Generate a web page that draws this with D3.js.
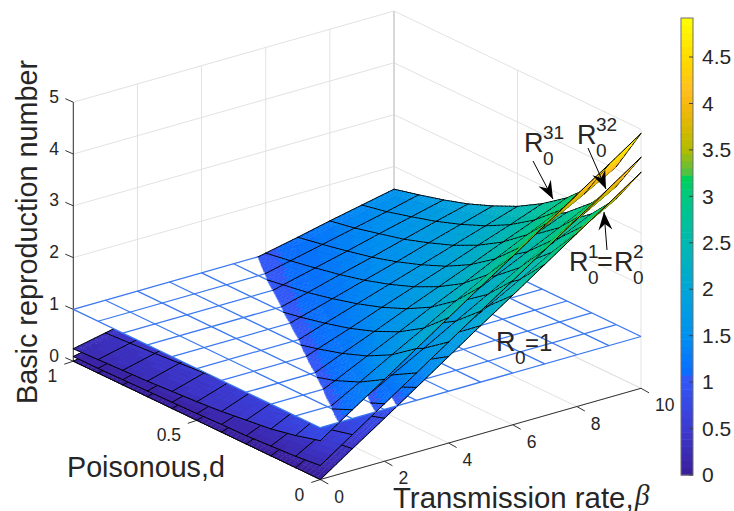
<!DOCTYPE html>
<html>
<head>
<meta charset="utf-8">
<script src="https://cdn.jsdelivr.net/npm/d3@7"></script>
<style>
  html, body { margin: 0; padding: 0; background: #fff; }
  text { font-family: "Liberation Sans", Arial, sans-serif; fill: #262626; }
</style>
</head>
<body>
<div id="wrapper"></div>
<script>
const betaValues = [0, 1, 2, 3, 4, 5, 6, 7, 8, 9, 10];
const dValues = [0, 0.1, 0.2, 0.3, 0.4, 0.5, 0.6, 0.7, 0.8, 0.9, 1];

const betaTicks = [0, 2, 4, 6, 8, 10];
const dTicks = [0, 0.5, 1];
const zTicks = [0, 1, 2, 3, 4, 5];
const colorTicks = [0, 0.5, 1, 1.5, 2, 2.5, 3, 3.5, 4, 4.5];
const planeLevel = 1;

// rows are d, columns are beta
const r31 = [
  [0.75, 1.17, 1.58, 2.00, 2.42, 2.84, 3.25, 3.67, 4.09, 4.50, 4.92],
  [0.62, 0.96, 1.30, 1.65, 1.99, 2.34, 2.67, 3.02, 3.37, 3.70, 4.05],
  [0.52, 0.82, 1.10, 1.40, 1.69, 1.99, 2.27, 2.57, 2.86, 3.15, 3.44],
  [0.46, 0.71, 0.96, 1.22, 1.47, 1.73, 1.98, 2.23, 2.49, 2.74, 2.99],
  [0.40, 0.63, 0.85, 1.08, 1.30, 1.53, 1.75, 1.97, 2.20, 2.42, 2.65],
  [0.36, 0.56, 0.76, 0.96, 1.17, 1.37, 1.57, 1.77, 1.97, 2.17, 2.37],
  [0.33, 0.51, 0.69, 0.87, 1.06, 1.24, 1.42, 1.60, 1.79, 1.97, 2.15],
  [0.30, 0.47, 0.63, 0.80, 0.97, 1.13, 1.30, 1.46, 1.63, 1.80, 1.96],
  [0.28, 0.43, 0.58, 0.74, 0.89, 1.05, 1.20, 1.35, 1.51, 1.66, 1.81],
  [0.26, 0.40, 0.54, 0.68, 0.83, 0.97, 1.11, 1.25, 1.39, 1.53, 1.68],
  [0.24, 0.37, 0.50, 0.63, 0.77, 0.90, 1.03, 1.16, 1.30, 1.43, 1.56],
];
const r32 = [
  [0.27, 0.69, 1.11, 1.53, 1.95, 2.37, 2.78, 3.20, 3.62, 4.04, 4.46],
  [0.22, 0.57, 0.91, 1.26, 1.60, 1.95, 2.29, 2.63, 2.98, 3.32, 3.67],
  [0.19, 0.48, 0.78, 1.07, 1.36, 1.66, 1.94, 2.24, 2.53, 2.82, 3.12],
  [0.16, 0.42, 0.67, 0.93, 1.19, 1.44, 1.69, 1.95, 2.20, 2.46, 2.71],
  [0.15, 0.37, 0.60, 0.82, 1.05, 1.28, 1.50, 1.72, 1.95, 2.17, 2.40],
  [0.13, 0.33, 0.54, 0.74, 0.94, 1.14, 1.34, 1.54, 1.74, 1.95, 2.15],
  [0.12, 0.30, 0.49, 0.67, 0.85, 1.04, 1.21, 1.40, 1.58, 1.77, 1.95],
  [0.11, 0.28, 0.44, 0.61, 0.78, 0.95, 1.11, 1.28, 1.44, 1.61, 1.78],
  [0.10, 0.25, 0.41, 0.56, 0.72, 0.87, 1.02, 1.18, 1.33, 1.49, 1.64],
  [0.09, 0.24, 0.38, 0.52, 0.66, 0.81, 0.95, 1.09, 1.23, 1.38, 1.52],
  [0.09, 0.22, 0.35, 0.49, 0.62, 0.75, 0.88, 1.01, 1.15, 1.28, 1.41],
];
const r1 = [
  [0, 0.42, 0.83, 1.25, 1.67, 2.09, 2.50, 2.92, 3.34, 3.75, 4.17],
  [0, 0.35, 0.68, 1.03, 1.37, 1.72, 2.06, 2.40, 2.75, 3.09, 3.43],
  [0, 0.29, 0.58, 0.87, 1.17, 1.46, 1.75, 2.04, 2.33, 2.62, 2.91],
  [0, 0.26, 0.50, 0.76, 1.02, 1.27, 1.52, 1.78, 2.03, 2.28, 2.54],
  [0, 0.23, 0.45, 0.67, 0.90, 1.12, 1.35, 1.57, 1.80, 2.02, 2.24],
  [0, 0.20, 0.40, 0.60, 0.80, 1.01, 1.21, 1.41, 1.61, 1.81, 2.01],
  [0, 0.18, 0.36, 0.55, 0.73, 0.91, 1.09, 1.28, 1.46, 1.64, 1.82],
  [0, 0.17, 0.33, 0.50, 0.67, 0.83, 1.00, 1.17, 1.33, 1.50, 1.66],
  [0, 0.15, 0.31, 0.46, 0.61, 0.77, 0.92, 1.07, 1.23, 1.38, 1.53],
  [0, 0.14, 0.28, 0.43, 0.57, 0.71, 0.85, 1.00, 1.14, 1.28, 1.42],
  [0, 0.13, 0.26, 0.40, 0.53, 0.66, 0.79, 0.93, 1.06, 1.19, 1.32],
];
const surfaces = [r1, r32, r31];

const colorDomain = [0, 0.5, 1.05, 1.1, 1.5, 2, 2.5, 3, 3.2, 3.27, 3.5, 3.75, 4, 4.15, 4.4, 4.92];
const colorRange = ["#3b1e9a", "#3d3ad0", "#3158f8", "#0a6cff", "#0090f0", "#00a6d8", "#00b9b0", "#00c880",
  "#00d058", "#58c040", "#b0bc00", "#d8b800", "#f8b810", "#ffc020", "#ffd400", "#ffff00"];

const width = 734;
const height = 511;
const origin = { x: 320.3, y: 479.5 };
const steps = 6;

const wrapper = d3.select("#wrapper")
  .append("svg")
    .attr("width", width)
    .attr("height", height)
    .style("display", "block");

const betaX = d3.scaleLinear().domain([0, 10]).range([0, 320.7]);
const betaY = d3.scaleLinear().domain([0, 10]).range([0, -91.2]);
const dX = d3.scaleLinear().domain([0, 1]).range([0, -247]);
const dY = d3.scaleLinear().domain([0, 1]).range([0, -118.3]);
const zY = d3.scaleLinear().domain([0, 5]).range([0, -259]);

const colorRamp = d3.scaleLinear().domain(colorDomain).range(colorRange).clamp(true);
const levels = 64;
const zMax = 4.92;
const colorOf = z => colorRamp((Math.floor(Math.min(z, zMax - 0.001) / zMax * levels) + 0.5) / levels * zMax);

const project = (b, d, z) => [
  origin.x + betaX(b) + dX(d),
  origin.y + betaY(b) + dY(d) + zY(z),
];
const depthOf = (b, d, z) => 24.8 * b + 319 * d - 47 * z;
const line3d = (a, b) => `M${project(...a)}L${project(...b)}`;

// walls and floor
const grid = wrapper.append("g")
  .attr("fill", "none")
  .attr("stroke", "#e2e2e2")
  .attr("stroke-width", 1);
const gridLines = [];
zTicks.forEach(z => {
  gridLines.push([[0, 1, z], [10, 1, z]]);
  gridLines.push([[10, 1, z], [10, 0, z]]);
});
betaTicks.forEach(b => {
  gridLines.push([[b, 1, 0], [b, 1, 5]]);
  gridLines.push([[b, 0, 0], [b, 1, 0]]);
});
dTicks.forEach(d => {
  gridLines.push([[10, d, 0], [10, d, 5]]);
  gridLines.push([[0, d, 0], [10, d, 0]]);
});
grid.selectAll("path")
  .data(gridLines)
  .join("path")
    .attr("d", d => line3d(d[0], d[1]));
grid.append("path")
  .attr("d", line3d([10, 1, 0], [10, 1, 5]))
  .attr("stroke", "#c8c8c8");

// axis lines and ticks
const axes = wrapper.append("g")
  .attr("fill", "none")
  .attr("stroke", "#333")
  .attr("stroke-width", 1);
axes.append("path").attr("d", line3d([0, 0, 0], [10, 0, 0]));
axes.append("path").attr("d", line3d([0, 0, 0], [0, 1, 0]));
axes.append("path").attr("d", line3d([0, 1, 0], [0, 1, 5]));

axes.selectAll(".beta-tick")
  .data(betaTicks)
  .join("path")
    .attr("class", "beta-tick")
    .attr("d", b => {
      const [x, y] = project(b, 0, 0);
      return `M${x},${y}l8,4.5`;
    });
axes.selectAll(".d-tick")
  .data(dTicks)
  .join("path")
    .attr("class", "d-tick")
    .attr("d", d => {
      const [x, y] = project(0, d, 0);
      return `M${x},${y}l-9,3`;
    });
axes.selectAll(".z-tick")
  .data(zTicks)
  .join("path")
    .attr("class", "z-tick")
    .attr("d", z => {
      const [x, y] = project(0, 1, z);
      return `M${x},${y}l-8,-3.5`;
    });

const tickLabels = wrapper.append("g")
  .style("font-size", "17.5px")
  .attr("text-anchor", "middle");
tickLabels.selectAll(".beta-label")
  .data(betaTicks)
  .join("text")
    .attr("class", "beta-label")
    .attr("text-anchor", "start")
    .attr("x", b => project(b, 0, 0)[0] + 14)
    .attr("y", b => project(b, 0, 0)[1] + 23)
    .text(d => d);
tickLabels.selectAll(".d-label")
  .data(dTicks)
  .join("text")
    .attr("class", "d-label")
    .attr("x", d => project(0, d, 0)[0] - (d === 0.5 ? 28 : 21))
    .attr("y", d => project(0, d, 0)[1] + 21)
    .text(d => d);
tickLabels.selectAll(".z-label")
  .data(zTicks)
  .join("text")
    .attr("class", "z-label")
    .attr("x", z => project(0, 1, z)[0] - 19.3)
    .attr("y", z => project(0, 1, z)[1] + 0.5)
    .text(d => d);

// keep the part of a polygon on one side of the plane
function clipPolygon(points, keepAbove) {
  const inside = p => keepAbove ? p[2] >= planeLevel : p[2] <= planeLevel;
  const out = [];
  points.forEach((p, i) => {
    const q = points[(i + 1) % points.length];
    if (inside(p)) out.push(p);
    if (inside(p) !== inside(q)) {
      const t = (planeLevel - p[2]) / (q[2] - p[2]);
      out.push([p[0] + t * (q[0] - p[0]), p[1] + t * (q[1] - p[1]), planeLevel]);
    }
  });
  return out;
}

function buildLayer(keepAbove) {
  const items = [];
  surfaces.forEach(values => {
    const at = (i, j, u, v) => {
      const z = values[i][j] * (1 - u) * (1 - v)
        + values[i + 1][j] * u * (1 - v)
        + values[i][j + 1] * (1 - u) * v
        + values[i + 1][j + 1] * u * v;
      return [
        betaValues[j] + v * (betaValues[j + 1] - betaValues[j]),
        dValues[i] + u * (dValues[i + 1] - dValues[i]),
        z,
      ];
    };
    const addLine = (p, q) => {
      const kept = clipPolygon([p, q], keepAbove);
      if (kept.length < 2) return;
      const a = kept[0];
      const b = kept[kept.length > 2 ? 1 : kept.length - 1];
      items.push({
        path: `M${project(...a)}L${project(...b)}`,
        isLine: true,
        depth: depthOf((a[0] + b[0]) / 2, (a[1] + b[1]) / 2, (a[2] + b[2]) / 2) - 5,
      });
    };
    for (let i = 0; i < dValues.length - 1; i++) {
      for (let j = 0; j < betaValues.length - 1; j++) {
        for (let s = 0; s < steps; s++) {
          for (let t = 0; t < steps; t++) {
            const corners = [
              at(i, j, s / steps, t / steps),
              at(i, j, (s + 1) / steps, t / steps),
              at(i, j, (s + 1) / steps, (t + 1) / steps),
              at(i, j, s / steps, (t + 1) / steps),
            ];
            const kept = clipPolygon(corners, keepAbove);
            if (kept.length < 3) continue;
            const mid = [0, 1, 2].map(k => d3.mean(kept, p => p[k]));
            items.push({
              path: "M" + kept.map(p => project(...p)).join("L") + "Z",
              color: colorOf(mid[2]),
              depth: depthOf(...mid),
            });
          }
          addLine(at(i, j, s / steps, 0), at(i, j, (s + 1) / steps, 0));
          addLine(at(i, j, 0, s / steps), at(i, j, 0, (s + 1) / steps));
          if (j === betaValues.length - 2) addLine(at(i, j, s / steps, 1), at(i, j, (s + 1) / steps, 1));
          if (i === dValues.length - 2) addLine(at(i, j, 1, s / steps), at(i, j, 1, (s + 1) / steps));
        }
      }
    }
  });
  return items.sort((a, b) => b.depth - a.depth);
}

function drawLayer(items) {
  wrapper.append("g")
    .selectAll("path")
    .data(items)
    .join("path")
      .attr("d", d => d.path)
      .attr("fill", d => d.isLine ? "none" : d.color)
      .attr("stroke", d => d.isLine ? "#000" : d.color)
      .attr("stroke-width", d => d.isLine ? 1 : 0.5)
      .attr("stroke-linecap", "round");
}

drawLayer(buildLayer(false));

// R0=1 plane, white and opaque
const plane = wrapper.append("g");
plane.append("path")
  .attr("d", "M" + [[0, 0], [10, 0], [10, 1], [0, 1]].map(c => project(c[0], c[1], planeLevel)).join("L") + "Z")
  .attr("fill", "#fff");
const planeLines = [
  ...betaValues.map(b => [[b, 0, planeLevel], [b, 1, planeLevel]]),
  ...dValues.map(d => [[0, d, planeLevel], [10, d, planeLevel]]),
];
plane.selectAll(".plane-line")
  .data(planeLines)
  .join("path")
    .attr("class", "plane-line")
    .attr("d", d => line3d(d[0], d[1]))
    .attr("fill", "none")
    .attr("stroke", "#3a78f0")
    .attr("stroke-width", 1.25);

drawLayer(buildLayer(true));

// colorbar
const colorY = d3.scaleLinear().domain([0, zMax]).range([475, 18]);
const bar = wrapper.append("g");
bar.selectAll("rect")
  .data(d3.range(levels))
  .join("rect")
    .attr("x", 681)
    .attr("width", 12)
    .attr("y", i => colorY((i + 1) / levels * zMax))
    .attr("height", i => colorY(i / levels * zMax) - colorY((i + 1) / levels * zMax) + 0.5)
    .attr("fill", i => colorRamp((i + 0.5) / levels * zMax));
bar.append("rect")
  .attr("x", 681).attr("y", 18).attr("width", 12).attr("height", 457)
  .attr("fill", "none")
  .attr("stroke", "#6e6e6e")
  .attr("stroke-width", 1);
const barAxis = bar.append("g")
  .attr("transform", "translate(693,0)")
  .call(d3.axisRight(colorY).tickValues(colorTicks).tickSize(0).tickPadding(9).tickFormat(d => d));
barAxis.select(".domain").remove();
barAxis.selectAll("text").style("font-size", "21px").style("font-family", null);
bar.selectAll(".bar-tick")
  .data(colorTicks)
  .join("path")
    .attr("class", "bar-tick")
    .attr("d", t => `M689,${colorY(t)}h4`)
    .attr("stroke", "#404040");

// axis titles
wrapper.append("text")
  .attr("transform", "translate(37,232) rotate(-90)")
  .attr("text-anchor", "middle")
  .style("font-size", "28.8px")
  .text("Basic reproduction number");
wrapper.append("text")
  .attr("x", 67).attr("y", 477)
  .style("font-size", "28.7px")
  .text("Poisonous,d");
wrapper.append("text")
  .attr("x", 393).attr("y", 508)
  .style("font-size", "29.4px")
  .text("Transmission rate,");
wrapper.append("text")
  .attr("x", 635).attr("y", 505)
  .style("font-family", '"Liberation Serif", serif')
  .style("font-style", "italic")
  .style("font-size", "29px")
  .text("β");

// annotations
function addR(x, y, sup, sub) {
  const g = wrapper.append("g").style("font-size", "27px");
  g.append("text").attr("x", x).attr("y", y).text("R");
  g.append("text").attr("x", x + 19).attr("y", y + 13).style("font-size", "19px").text(sub);
  if (sup) g.append("text").attr("x", x + 19).attr("y", y - 13).style("font-size", "19px").text(sup);
}
addR(524, 152, "31", "0");
addR(577, 144, "32", "0");
addR(569, 271, "1", "0");
wrapper.append("text").attr("x", 597).attr("y", 271).style("font-size", "27px").text("=");
addR(614, 271, "2", "0");
addR(496, 351, "", "0");
wrapper.append("text").attr("x", 525).attr("y", 351).style("font-size", "24px").text("=1");

const arrows = [
  [[533, 161], [553, 199]],
  [[588, 148], [606, 189]],
  [[607, 250], [604, 212]],
];
function arrowHead(from, to) {
  const a = Math.atan2(to[1] - from[1], to[0] - from[0]);
  const pt = (l, w) => [to[0] - l * Math.cos(a) + w * Math.sin(a), to[1] - l * Math.sin(a) - w * Math.cos(a)];
  return "M" + [to, pt(18, 7), pt(12, 0), pt(18, -7)].join("L") + "Z";
}
const arrowGroup = wrapper.append("g");
arrowGroup.selectAll("line")
  .data(arrows)
  .join("line")
    .attr("x1", d => d[0][0]).attr("y1", d => d[0][1])
    .attr("x2", d => d[1][0]).attr("y2", d => d[1][1])
    .attr("stroke", "#000")
    .attr("stroke-width", 1);
arrowGroup.selectAll("path")
  .data(arrows)
  .join("path")
    .attr("d", d => arrowHead(d[0], d[1]))
    .attr("fill", "#000");
</script>
</body>
</html>
